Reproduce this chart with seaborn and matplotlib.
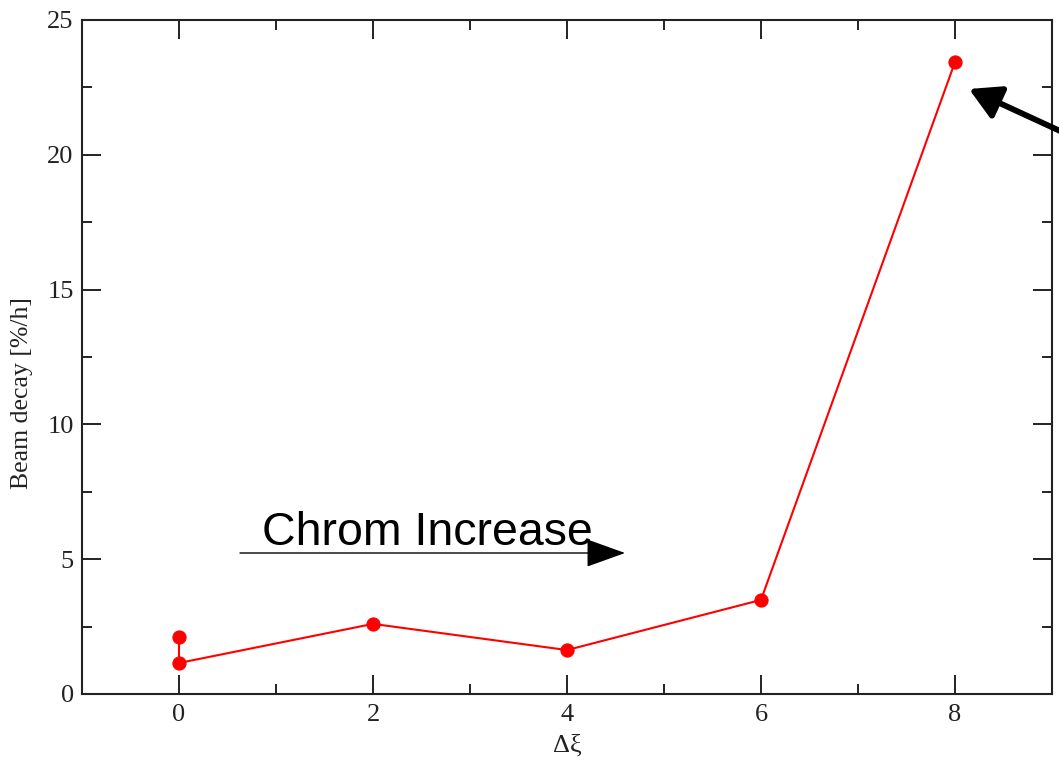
import matplotlib
matplotlib.use("Agg")
import matplotlib.pyplot as plt
import seaborn as sns
import pandas as pd
from matplotlib.ticker import MultipleLocator

# Data
delta_xi = [0, 0, 2, 4, 6, 8]
beam_decay = [2.11, 1.15, 2.60, 1.63, 3.49, 23.44]
x_ticks = [0, 2, 4, 6, 8]
y_ticks = [0, 5, 10, 15, 20, 25]

sns.set_theme(style="ticks")
plt.rcParams["font.family"] = ["Liberation Serif", "DejaVu Serif"]

df = pd.DataFrame({"dxi": delta_xi, "decay": beam_decay})

fig = plt.figure(figsize=(10.59, 7.61), dpi=100)
ax = fig.add_axes([82 / 1059, 1 - 694 / 761, (1052 - 82) / 1059, (694 - 20) / 761])

sns.lineplot(data=df, x="dxi", y="decay", sort=False, estimator=None, ax=ax,
             color="#ff0000", lw=1.5, marker="o", markersize=9.5,
             markeredgecolor="#ff0000", markerfacecolor="#ff0000")

ax.set_xlim(-1, 9)
ax.set_ylim(0, 25)
ax.set_xticks(x_ticks)
ax.set_yticks(y_ticks)
ax.xaxis.set_minor_locator(MultipleLocator(1))
ax.yaxis.set_minor_locator(MultipleLocator(2.5))
ax.tick_params(which="both", direction="in", top=True, right=True,
               width=1.4, color="#222222", labelsize=19, labelcolor="#222222")
ax.tick_params(which="major", length=13.5)
ax.tick_params(which="minor", length=7)
ax.tick_params(axis="x", which="major", pad=7)
ax.tick_params(axis="y", which="major", pad=6)
for s in ax.spines.values():
    s.set_linewidth(1.5)
    s.set_color("#222222")

ax.set_xlabel("Δξ", fontsize=19, color="#222222")
ax.set_ylabel("Beam decay [%/h]", fontsize=18.5, color="#222222")
ax.yaxis.set_label_coords(-0.050, 0.447)
ax.xaxis.set_label_coords(0.5, -0.060)

# "Chrom Increase" annotation
fig.text(262 / 1059, 1 - 545 / 761, "Chrom Increase", fontsize=33.5,
         family=["Liberation Sans", "DejaVu Sans"], color="black",
         ha="left", va="baseline")
ax.annotate("", xy=(625, 761 - 553), xytext=(240, 761 - 553),
            xycoords="figure pixels", textcoords="figure pixels",
            arrowprops=dict(arrowstyle="-|>,head_length=2.5,head_width=0.9",
                            mutation_scale=10, lw=1, color="black",
                            shrinkA=0, shrinkB=0),
            annotation_clip=False)

# Big black arrow pointing at the last point
ax.annotate("", xy=(969, 761 - 89), xytext=(1110, 761 - 154),
            xycoords="figure pixels", textcoords="figure pixels",
            arrowprops=dict(arrowstyle="-|>,head_length=0.75,head_width=0.42",
                            mutation_scale=25, lw=4.2, color="black",
                            shrinkA=0, shrinkB=0),
            annotation_clip=False)

fig.savefig("out.png", dpi=100)
